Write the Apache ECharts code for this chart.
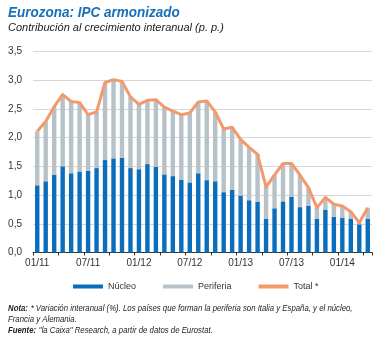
<!DOCTYPE html>
<html><head><meta charset="utf-8">
<script src="https://cdn.jsdelivr.net/npm/echarts@6/dist/echarts.min.js"></script>
<style>html,body{margin:0;padding:0;background:#fff}#c{width:382px;height:338px}</style>
</head><body><div id="c"></div>
<script>
const months = ['01/11','02/11','03/11','04/11','05/11','06/11','07/11','08/11','09/11','10/11','11/11','12/11',
'01/12','02/12','03/12','04/12','05/12','06/12','07/12','08/12','09/12','10/12','11/12','12/12',
'01/13','02/13','03/13','04/13','05/13','06/13','07/13','08/13','09/13','10/13','11/13','12/13',
'01/14','02/14','03/14','04/14'];
const nucleo = [1.17,1.24,1.35,1.50,1.38,1.41,1.42,1.47,1.61,1.64,1.65,1.47,
1.45,1.54,1.49,1.36,1.33,1.27,1.22,1.38,1.26,1.24,1.05,1.09,
0.99,0.91,0.88,0.59,0.77,0.89,0.97,0.79,0.81,0.59,0.74,0.62,
0.60,0.59,0.49,0.59];
const periferia = [0.94,1.04,1.19,1.25,1.25,1.20,0.98,0.98,1.35,1.37,1.33,1.24,
1.13,1.11,1.17,1.17,1.13,1.13,1.21,1.24,1.38,1.21,1.10,1.09,
0.98,0.92,0.83,0.55,0.58,0.66,0.58,0.56,0.32,0.19,0.22,0.22,
0.21,0.12,0.03,0.19];
const total = [2.11,2.28,2.54,2.75,2.63,2.61,2.40,2.45,2.96,3.01,2.98,2.71,
2.58,2.65,2.66,2.53,2.46,2.40,2.43,2.62,2.64,2.45,2.15,2.18,
1.97,1.83,1.71,1.14,1.35,1.55,1.55,1.35,1.13,0.78,0.96,0.84,
0.81,0.71,0.52,0.78];
const yTicks = ['0,0','0,5','1,0','1,5','2,0','2,5','3,0','3,5'];

const FONT = '"Liberation Sans", Arial, sans-serif';
const BLUE = '#0a6ebd', GRAY = '#b7c2c8', ORANGE = '#f4996b';
const chart = echarts.init(document.getElementById('c'), null, {renderer:'canvas'});
chart.setOption({
  animation:false,
  textStyle:{fontFamily:FONT},
  grid:{left:33, right:10, top:51.5, height:201},
  xAxis:{type:'category', data:months, boundaryGap:true,
    axisLine:{lineStyle:{color:'#333', width:1}},
    axisTick:{show:true, interval:2, length:3, lineStyle:{color:'#333'}},
    axisLabel:{interval:5, color:'#333', fontSize:10, fontFamily:FONT, margin:6}},
  yAxis:{type:'value', min:0, max:3.5, interval:0.5,
    axisLine:{show:false}, axisTick:{show:false},
    splitLine:{lineStyle:{color:'#d6d6d6', width:1}},
    axisLabel:{color:'#333', fontSize:10, fontFamily:FONT, margin:11,
      formatter:(v)=>yTicks[Math.round(v*2)]}},
  legend:{top:277, left:68, itemWidth:30, itemHeight:4, itemGap:27,
    textStyle:{fontSize:9, color:'#333', fontFamily:FONT},
    data:[{name:'Núcleo', icon:'rect'},{name:'Periferia', icon:'rect'},{name:'Total *', icon:'rect'}]},
  series:[
    {name:'Núcleo', type:'bar', stack:'s', data:nucleo, barWidth:'52%', itemStyle:{color:BLUE}},
    {name:'Periferia', type:'bar', stack:'s', data:periferia, barWidth:'52%', itemStyle:{color:GRAY}},
    {name:'Total *', type:'line', data:total, symbol:'none', lineStyle:{color:ORANGE, width:3, join:'round'}, itemStyle:{color:ORANGE}, z:5}
  ],
  graphic:[
    {type:'text', x:8, y:5, scaleX:0.9, style:{text:'Eurozona: IPC armonizado', fill:'#1a70b8', font:'italic bold 15px "Liberation Sans", sans-serif'}},
    {type:'text', x:8, y:22, style:{text:'Contribución al crecimiento interanual (p. p.)', fill:'#222', font:'italic 11px "Liberation Sans", sans-serif'}},
    {type:'text', x:8, y:302, scaleX:0.82, style:{rich:{b:{font:'italic bold 9.5px '+FONT, fill:'#222', lineHeight:10.8}, n:{font:'italic 9.5px '+FONT, fill:'#222', lineHeight:10.8}},
      text:'{b|Nota:} {n|* Variación interanual (%). Los países que forman la periferia son Italia y España, y el núcleo,}\n{n|Francia y Alemania.}\n{b|Fuente:} {n|"la Caixa" Research, a partir de datos de Eurostat.}'}}
  ]
});
</script></body></html>
